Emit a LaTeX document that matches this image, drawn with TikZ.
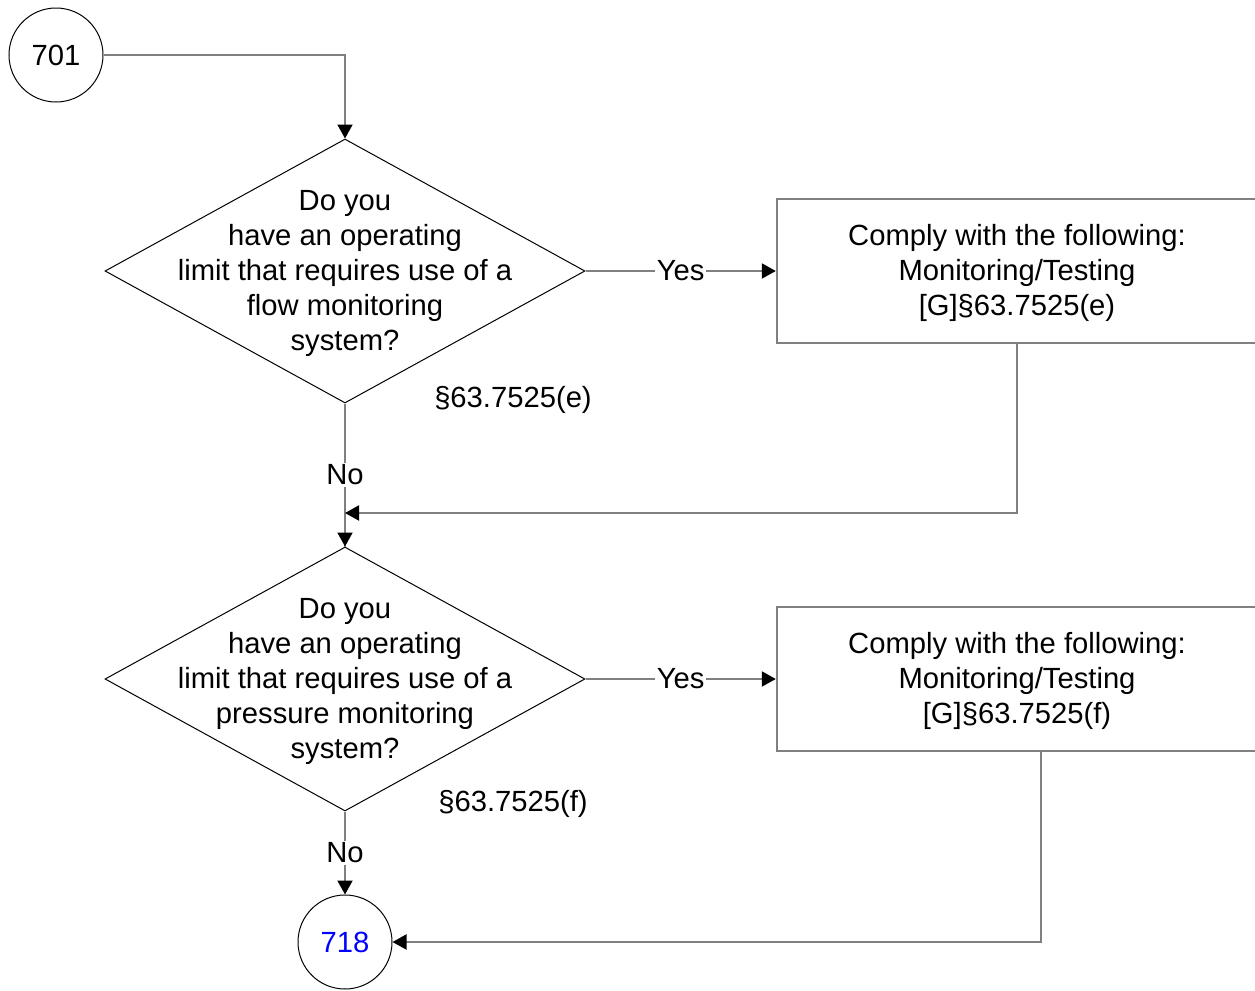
\documentclass[tikz,border=0pt]{standalone}
\usepackage{fontspec}
\setmainfont{Liberation Sans}
\usetikzlibrary{shapes.geometric, arrows.meta, positioning}
\definecolor{FlowGray}{RGB}{128,128,128}
\definecolor{FlowBlue}{RGB}{0,0,255}

\begin{document}
\begin{tikzpicture}[x=0.5pt,y=-0.5pt,
  font=\fontsize{14.6}{17.5}\selectfont,
  arrowtip/.style={-{Triangle[length=7pt,width=7.5pt,color=black]}},
  conn/.style={draw=FlowGray, line width=1pt, arrowtip},
  link/.style={draw=FlowGray, line width=1pt},
  connector/.style={circle, draw=black, line width=0.5pt, minimum size=47pt, inner sep=0pt},
  decision/.style={diamond, draw=black, line width=0.5pt, minimum width=240pt, minimum height=132pt, inner sep=0pt},
  question/.style={align=center, inner sep=0pt},
  action/.style={draw=FlowGray, line width=1.2pt, minimum width=240pt, minimum height=72pt, align=center},
  answer/.style={fill=white, inner sep=1pt},
  rule/.style={inner sep=0pt}]
  \clip (0,0) rectangle (1255,991);
  \fill[white] (0,0) rectangle (1255,991);

  \node[connector] (c701) at (56,55) {701};

  % first question: flow monitoring
  \node[decision] (q1) at (345,271) {};
  \node[question] (q1txt) at (345,273) {Do you\\have an operating\\limit that requires use of a\\flow monitoring\\system?};
  \node[rule] (r1) at (513,400) {§63.7525(e)};
  \node[action] (box1) at (1017,271) {};
  \node[question] (box1txt) at (1017,273) {Comply with the following:\\Monitoring/Testing\\{[G]}§63.7525(e)};

  % second question: pressure monitoring
  \node[decision] (q2) at (345,679) {};
  \node[question] (q2txt) at (345,681) {Do you\\have an operating\\limit that requires use of a\\pressure monitoring\\system?};
  \node[rule] (r2) at (513,804) {§63.7525(f)};
  \node[action] (box2) at (1017,679) {};
  \node[question] (box2txt) at (1017,681) {Comply with the following:\\Monitoring/Testing\\{[G]}§63.7525(f)};

  \node[connector, text=FlowBlue] (c718) at (345,942) {718};
  \coordinate (m1) at (345,513);

  \draw[conn] (c701.east) -| (q1.north);
  \draw[conn] (q1.east) -- node[answer] {Yes} (box1.west);
  \draw[link] (q1.south) -- node[answer] {No} (q2.north);
  \draw[conn] (m1) -- (q2.north);
  \draw[conn] (box1.south) |- (m1);
  \draw[conn] (q2.east) -- node[answer] {Yes} (box2.west);
  \draw[conn] (q2.south) -- node[answer] {No} (c718.north);
  \draw[conn] ([xshift=12pt]box2.south) |- (c718.east);
\end{tikzpicture}
\end{document}
